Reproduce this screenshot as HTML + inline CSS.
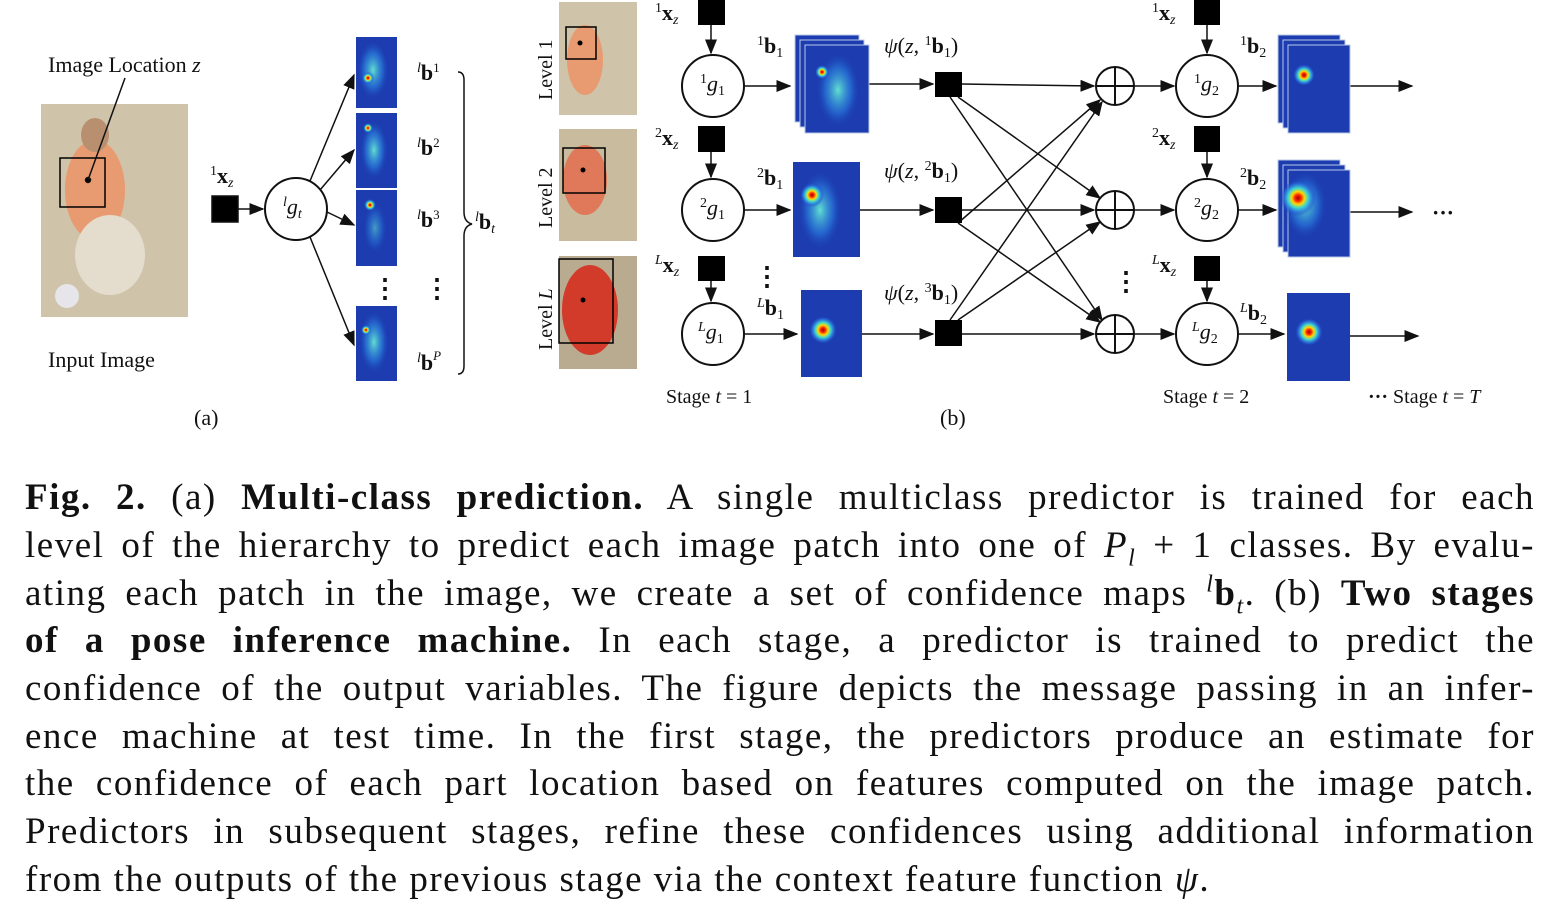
<!DOCTYPE html>
<html><head><meta charset="utf-8"><style>
body{margin:0;background:#fff;width:1550px;height:918px;overflow:hidden;position:relative;font-family:"Liberation Serif",serif}
svg{position:absolute;left:0;top:0}
.cap{position:absolute;left:25px;width:1510px;font-size:37px;letter-spacing:1.5px;line-height:48px;height:48px;text-align:justify;text-align-last:justify;white-space:nowrap;color:#111}
.cap sub,.cap sup{line-height:0;font-size:24px}
.cap.last{text-align-last:left}
svg text{font-family:"Liberation Serif",serif;fill:#111}
</style></head><body>
<svg width="1550" height="440">
<defs>
<radialGradient id="hot"><stop offset="0" stop-color="#a00000"/><stop offset="0.18" stop-color="#ff2a00"/><stop offset="0.35" stop-color="#ffd800"/><stop offset="0.55" stop-color="#40d8d0"/><stop offset="0.8" stop-color="#2a70e0" stop-opacity="0.7"/><stop offset="1" stop-color="#1c3cb0" stop-opacity="0"/></radialGradient>
<radialGradient id="cy"><stop offset="0" stop-color="#60e0d0"/><stop offset="0.6" stop-color="#2a80e0" stop-opacity="0.6"/><stop offset="1" stop-color="#1c3cb0" stop-opacity="0"/></radialGradient>
<marker id="ar" markerWidth="10" markerHeight="8" refX="9" refY="4" orient="auto"><path d="M0,0 L10,4 L0,8 Z" fill="#111"/></marker>
</defs>
<g stroke="#111" stroke-width="1.5" fill="none">
<rect x="41" y="104" width="147" height="213" fill="#cfc3aa" stroke="none"/>
<ellipse cx="95" cy="190" rx="30" ry="50" fill="#e89a70" stroke="none"/>
<ellipse cx="95" cy="135" rx="14" ry="17" fill="#b89070" stroke="none"/>
<ellipse cx="110" cy="255" rx="35" ry="40" fill="#e4dccc" stroke="none"/>
<circle cx="67" cy="296" r="12" fill="#e6e6ea" stroke="none"/>
<rect x="60" y="158" width="45" height="49" stroke="#000"/>
<circle cx="88" cy="180" r="2.5" fill="#000"/>
<line x1="125" y1="78" x2="88" y2="180"/>
<rect x="212" y="196" width="26" height="26" fill="#000"/>
<line x1="238" y1="209" x2="263" y2="209" marker-end="url(#ar)"/>
<circle cx="296" cy="209" r="31" stroke-width="2"/>
<line x1="310" y1="181" x2="354" y2="75" marker-end="url(#ar)"/>
<line x1="320" y1="190" x2="354" y2="150" marker-end="url(#ar)"/>
<line x1="327" y1="212" x2="354" y2="225" marker-end="url(#ar)"/>
<line x1="310" y1="237" x2="354" y2="345" marker-end="url(#ar)"/>
<path d="M458,72 q6,0 6,8 v132 q0,10 8,12 q-8,2 -8,12 v130 q0,8 -6,8"/>
<line x1="711" y1="25" x2="711" y2="53" marker-end="url(#ar)"/>
<line x1="711" y1="152" x2="711" y2="177" marker-end="url(#ar)"/>
<line x1="711" y1="281" x2="711" y2="301" marker-end="url(#ar)"/>
<line x1="744" y1="86" x2="790" y2="86" marker-end="url(#ar)"/>
<line x1="744" y1="210" x2="790" y2="210" marker-end="url(#ar)"/>
<line x1="744" y1="334" x2="797" y2="334" marker-end="url(#ar)"/>
<line x1="868" y1="84" x2="933" y2="84" marker-end="url(#ar)"/>
<line x1="860" y1="210" x2="933" y2="210" marker-end="url(#ar)"/>
<line x1="862" y1="334" x2="933" y2="334" marker-end="url(#ar)"/>
<line x1="962" y1="84" x2="1094" y2="86" marker-end="url(#ar)"/>
<line x1="962" y1="210" x2="1094" y2="210" marker-end="url(#ar)"/>
<line x1="962" y1="334" x2="1094" y2="334" marker-end="url(#ar)"/>
<line x1="958" y1="97" x2="1100" y2="198" marker-end="url(#ar)"/>
<line x1="950" y1="97" x2="1102" y2="320" marker-end="url(#ar)"/>
<line x1="958" y1="223" x2="1100" y2="100" marker-end="url(#ar)"/>
<line x1="958" y1="223" x2="1100" y2="322" marker-end="url(#ar)"/>
<line x1="950" y1="320" x2="1102" y2="102" marker-end="url(#ar)"/>
<line x1="958" y1="320" x2="1100" y2="222" marker-end="url(#ar)"/>
<line x1="1134" y1="86" x2="1174" y2="86" marker-end="url(#ar)"/>
<line x1="1134" y1="210" x2="1174" y2="210" marker-end="url(#ar)"/>
<line x1="1134" y1="334" x2="1174" y2="334" marker-end="url(#ar)"/>
<line x1="1207" y1="25" x2="1207" y2="53" marker-end="url(#ar)"/>
<line x1="1207" y1="152" x2="1207" y2="177" marker-end="url(#ar)"/>
<line x1="1207" y1="281" x2="1207" y2="301" marker-end="url(#ar)"/>
<line x1="1238" y1="86" x2="1276" y2="86" marker-end="url(#ar)"/>
<line x1="1238" y1="210" x2="1276" y2="210" marker-end="url(#ar)"/>
<line x1="1238" y1="334" x2="1284" y2="334" marker-end="url(#ar)"/>
<line x1="1350" y1="86" x2="1412" y2="86" marker-end="url(#ar)"/>
<line x1="1350" y1="212" x2="1412" y2="212" marker-end="url(#ar)"/>
<line x1="1350" y1="336" x2="1418" y2="336" marker-end="url(#ar)"/>
<g stroke-width="2">
<circle cx="713" cy="86" r="31"/><circle cx="713" cy="210" r="31"/><circle cx="713" cy="334" r="31"/>
<circle cx="1207" cy="86" r="31"/><circle cx="1207" cy="210" r="31"/><circle cx="1207" cy="334" r="31"/>
<circle cx="1115" cy="86" r="19"/><circle cx="1115" cy="210" r="19"/><circle cx="1115" cy="334" r="19"/>
<path d="M1096,86h38M1115,67v38M1096,210h38M1115,191v38M1096,334h38M1115,315v38"/>
</g>
</g>
<g fill="#000">
<rect x="698" y="0" width="27" height="25"/><rect x="698" y="126" width="27" height="26"/><rect x="698" y="256" width="27" height="25"/>
<rect x="935" y="72" width="27" height="25"/><rect x="935" y="197" width="27" height="26"/><rect x="935" y="320" width="27" height="26"/>
<rect x="1194" y="0" width="26" height="25"/><rect x="1194" y="126" width="26" height="26"/><rect x="1194" y="256" width="26" height="25"/>
</g>
<g>
<rect x="356" y="37" width="41" height="71" fill="#1c3cb0"/><ellipse cx="373" cy="70" rx="16" ry="30" fill="url(#cy)"/><circle cx="368" cy="78" r="6" fill="url(#hot)"/>
<rect x="356" y="113" width="41" height="75" fill="#1c3cb0"/><ellipse cx="374" cy="150" rx="14" ry="30" fill="url(#cy)"/><circle cx="368" cy="128" r="5" fill="url(#hot)"/>
<rect x="356" y="190" width="41" height="76" fill="#1c3cb0"/><ellipse cx="375" cy="228" rx="12" ry="26" fill="url(#cy)" opacity=".6"/><circle cx="370" cy="205" r="6" fill="url(#hot)"/>
<rect x="356" y="306" width="41" height="75" fill="#1c3cb0"/><ellipse cx="374" cy="342" rx="15" ry="32" fill="url(#cy)"/><circle cx="366" cy="330" r="5" fill="url(#hot)"/>
</g>
<g>
<rect x="559" y="2" width="78" height="113" fill="#cfc3aa"/><ellipse cx="585" cy="60" rx="18" ry="35" fill="#e89a70"/><rect x="566" y="27" width="30" height="32" fill="none" stroke="#000" stroke-width="1.5"/><circle cx="580" cy="43" r="2.5" fill="#000"/>
<rect x="559" y="129" width="78" height="112" fill="#c8bb9e"/><ellipse cx="585" cy="180" rx="22" ry="35" fill="#e0785a"/><rect x="563" y="148" width="42" height="45" fill="none" stroke="#000" stroke-width="1.5"/><circle cx="583" cy="170" r="2.5" fill="#000"/>
<rect x="559" y="256" width="78" height="113" fill="#b8ab90"/><ellipse cx="590" cy="310" rx="28" ry="45" fill="#d23a2a"/><rect x="559" y="259" width="54" height="84" fill="none" stroke="#000" stroke-width="1.5"/><circle cx="583" cy="300" r="2.5" fill="#000"/>
</g>
<g stroke="#b8c8e8" stroke-width="1">
<rect x="795" y="35" width="64" height="87" fill="#1c3cb0"/><rect x="800" y="40" width="64" height="87" fill="#1c3cb0"/><rect x="805" y="45" width="64" height="88" fill="#1c3cb0"/>
<ellipse cx="838" cy="90" rx="22" ry="38" fill="url(#cy)" stroke="none"/><circle cx="822" cy="72" r="7" fill="url(#hot)" stroke="none"/>
<rect x="793" y="162" width="67" height="95" fill="#1c3cb0" stroke="none"/><ellipse cx="820" cy="210" rx="22" ry="40" fill="url(#cy)" stroke="none"/><circle cx="812" cy="195" r="12" fill="url(#hot)" stroke="none"/>
<rect x="801" y="290" width="61" height="87" fill="#1c3cb0" stroke="none"/><circle cx="823" cy="330" r="14" fill="url(#hot)" stroke="none"/>
<rect x="1278" y="35" width="62" height="88" fill="#1c3cb0"/><rect x="1283" y="40" width="62" height="88" fill="#1c3cb0"/><rect x="1288" y="45" width="62" height="88" fill="#1c3cb0"/>
<circle cx="1304" cy="75" r="11" fill="url(#hot)" stroke="none"/>
<rect x="1278" y="160" width="62" height="87" fill="#1c3cb0"/><rect x="1283" y="165" width="62" height="87" fill="#1c3cb0"/><rect x="1288" y="170" width="62" height="87" fill="#1c3cb0"/>
<ellipse cx="1305" cy="205" rx="22" ry="34" fill="url(#cy)" stroke="none"/><circle cx="1298" cy="198" r="18" fill="url(#hot)" stroke="none"/>
<rect x="1287" y="293" width="63" height="88" fill="#1c3cb0" stroke="none"/><circle cx="1309" cy="332" r="14" fill="url(#hot)" stroke="none"/>
</g>
<g font-size="22">
<text x="48" y="72">Image Location <tspan font-style="italic">z</tspan></text>
<text x="48" y="367">Input Image</text>
<text x="194" y="425">(a)</text>
<text x="940" y="425">(b)</text>
<text x="210" y="183"><tspan font-size="14" dy="-8">1</tspan><tspan font-weight="bold" dy="8">x</tspan><tspan font-size="14" font-style="italic" dy="4">z</tspan></text>
<text x="283" y="214"><tspan font-size="14" font-style="italic" dy="-8">l</tspan><tspan font-style="italic" dy="8">g</tspan><tspan font-size="14" font-style="italic" dy="4">t</tspan></text>
<text x="417" y="80"><tspan font-size="14" font-style="italic" dy="-8">l</tspan><tspan font-weight="bold" dy="8">b</tspan><tspan font-size="13" dy="-8">1</tspan></text>
<text x="417" y="155"><tspan font-size="14" font-style="italic" dy="-8">l</tspan><tspan font-weight="bold" dy="8">b</tspan><tspan font-size="13" dy="-8">2</tspan></text>
<text x="417" y="227"><tspan font-size="14" font-style="italic" dy="-8">l</tspan><tspan font-weight="bold" dy="8">b</tspan><tspan font-size="13" dy="-8">3</tspan></text>
<text x="417" y="370"><tspan font-size="14" font-style="italic" dy="-8">l</tspan><tspan font-weight="bold" dy="8">b</tspan><tspan font-size="13" font-style="italic" dy="-10">P</tspan></text>
<text x="475" y="229"><tspan font-size="14" font-style="italic" dy="-8">l</tspan><tspan font-weight="bold" dy="8">b</tspan><tspan font-size="14" font-style="italic" dy="4">t</tspan></text>
<text x="372" y="297" font-size="26" font-weight="bold">⋮</text><text x="424" y="297" font-size="26" font-weight="bold">⋮</text>
<text x="754" y="285" font-size="26" font-weight="bold">⋮</text><text x="1113" y="290" font-size="26" font-weight="bold">⋮</text>
<text transform="translate(552,100) rotate(-90)" font-size="20">Level 1</text>
<text transform="translate(552,228) rotate(-90)" font-size="20">Level 2</text>
<text transform="translate(552,350) rotate(-90)" font-size="20">Level <tspan font-style="italic">L</tspan></text>
<text x="655" y="20"><tspan font-size="14" dy="-8">1</tspan><tspan font-weight="bold" dy="8">x</tspan><tspan font-size="14" font-style="italic" dy="4">z</tspan></text>
<text x="655" y="145"><tspan font-size="14" dy="-8">2</tspan><tspan font-weight="bold" dy="8">x</tspan><tspan font-size="14" font-style="italic" dy="4">z</tspan></text>
<text x="655" y="272"><tspan font-size="14" font-style="italic" dy="-8">L</tspan><tspan font-weight="bold" dy="8">x</tspan><tspan font-size="14" font-style="italic" dy="4">z</tspan></text>
<text x="1152" y="20"><tspan font-size="14" dy="-8">1</tspan><tspan font-weight="bold" dy="8">x</tspan><tspan font-size="14" font-style="italic" dy="4">z</tspan></text>
<text x="1152" y="145"><tspan font-size="14" dy="-8">2</tspan><tspan font-weight="bold" dy="8">x</tspan><tspan font-size="14" font-style="italic" dy="4">z</tspan></text>
<text x="1152" y="272"><tspan font-size="14" font-style="italic" dy="-8">L</tspan><tspan font-weight="bold" dy="8">x</tspan><tspan font-size="14" font-style="italic" dy="4">z</tspan></text>
<text x="700" y="91"><tspan font-size="14" dy="-8">1</tspan><tspan font-style="italic" dy="8">g</tspan><tspan font-size="14" dy="4">1</tspan></text>
<text x="700" y="215"><tspan font-size="14" dy="-8">2</tspan><tspan font-style="italic" dy="8">g</tspan><tspan font-size="14" dy="4">1</tspan></text>
<text x="698" y="339"><tspan font-size="14" font-style="italic" dy="-8">L</tspan><tspan font-style="italic" dy="8">g</tspan><tspan font-size="14" dy="4">1</tspan></text>
<text x="1194" y="91"><tspan font-size="14" dy="-8">1</tspan><tspan font-style="italic" dy="8">g</tspan><tspan font-size="14" dy="4">2</tspan></text>
<text x="1194" y="215"><tspan font-size="14" dy="-8">2</tspan><tspan font-style="italic" dy="8">g</tspan><tspan font-size="14" dy="4">2</tspan></text>
<text x="1192" y="339"><tspan font-size="14" font-style="italic" dy="-8">L</tspan><tspan font-style="italic" dy="8">g</tspan><tspan font-size="14" dy="4">2</tspan></text>
<text x="757" y="53"><tspan font-size="14" dy="-8">1</tspan><tspan font-weight="bold" dy="8">b</tspan><tspan font-size="14" dy="4">1</tspan></text>
<text x="757" y="185"><tspan font-size="14" dy="-8">2</tspan><tspan font-weight="bold" dy="8">b</tspan><tspan font-size="14" dy="4">1</tspan></text>
<text x="757" y="315"><tspan font-size="14" font-style="italic" dy="-8">L</tspan><tspan font-weight="bold" dy="8">b</tspan><tspan font-size="14" dy="4">1</tspan></text>
<text x="1240" y="53"><tspan font-size="14" dy="-8">1</tspan><tspan font-weight="bold" dy="8">b</tspan><tspan font-size="14" dy="4">2</tspan></text>
<text x="1240" y="185"><tspan font-size="14" dy="-8">2</tspan><tspan font-weight="bold" dy="8">b</tspan><tspan font-size="14" dy="4">2</tspan></text>
<text x="1240" y="320"><tspan font-size="14" font-style="italic" dy="-8">L</tspan><tspan font-weight="bold" dy="8">b</tspan><tspan font-size="14" dy="4">2</tspan></text>
<text x="884" y="53"><tspan font-style="italic">ψ</tspan>(<tspan font-style="italic">z</tspan>, <tspan font-size="14" dy="-8">1</tspan><tspan font-weight="bold" dy="8">b</tspan><tspan font-size="14" dy="4">1</tspan><tspan dy="-4">)</tspan></text>
<text x="884" y="178"><tspan font-style="italic">ψ</tspan>(<tspan font-style="italic">z</tspan>, <tspan font-size="14" dy="-8">2</tspan><tspan font-weight="bold" dy="8">b</tspan><tspan font-size="14" dy="4">1</tspan><tspan dy="-4">)</tspan></text>
<text x="884" y="300"><tspan font-style="italic">ψ</tspan>(<tspan font-style="italic">z</tspan>, <tspan font-size="14" dy="-8">3</tspan><tspan font-weight="bold" dy="8">b</tspan><tspan font-size="14" dy="4">1</tspan><tspan dy="-4">)</tspan></text>
<text x="1432" y="220" font-weight="bold">···</text>
<text x="666" y="403" font-size="20">Stage <tspan font-style="italic">t</tspan> = 1</text>
<text x="1163" y="403" font-size="20">Stage <tspan font-style="italic">t</tspan> = 2</text>
<text x="1368" y="403" font-size="20"><tspan font-weight="bold">···</tspan> Stage <tspan font-style="italic">t</tspan> = <tspan font-style="italic">T</tspan></text>
</g>
</svg>
<div>
<div class="cap" style="top:474px"><b>Fig. 2.</b> (a) <b>Multi-class prediction.</b> A single multiclass predictor is trained for each</div>
<div class="cap" style="top:522px">level of the hierarchy to predict each image patch into one of <i>P<sub>l</sub></i> + 1 classes. By evalu-</div>
<div class="cap" style="top:570px">ating each patch in the image, we create a set of confidence maps <sup><i>l</i></sup><b>b</b><sub><i>t</i></sub>. (b) <b>Two stages</b></div>
<div class="cap" style="top:617px"><b>of a pose inference machine.</b> In each stage, a predictor is trained to predict the</div>
<div class="cap" style="top:665px">confidence of the output variables. The figure depicts the message passing in an infer-</div>
<div class="cap" style="top:713px">ence machine at test time. In the first stage, the predictors produce an estimate for</div>
<div class="cap" style="top:760px">the confidence of each part location based on features computed on the image patch.</div>
<div class="cap" style="top:808px">Predictors in subsequent stages, refine these confidences using additional information</div>
<div class="cap last" style="top:856px">from the outputs of the previous stage via the context feature function <i>ψ</i>.</div>
</div>
</body></html>
